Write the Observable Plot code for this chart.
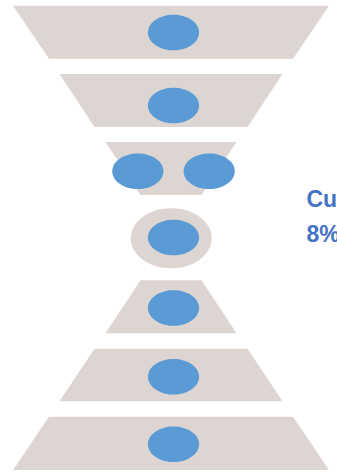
<!DOCTYPE html>
<html>
<head>
<meta charset="utf-8">
<script src="https://cdn.jsdelivr.net/npm/d3@7"></script>
<script src="https://cdn.jsdelivr.net/npm/@observablehq/plot@0.6"></script>
<style>
  html, body { margin: 0; padding: 0; background: #ffffff; }
  #chart svg { display: block; }
</style>
</head>
<body>
<div id="chart"></div>
<script>
// Diagram data (in chart units: x 0–337, y 0–473)
const tiers        = ["Tier 1", "Tier 2", "Tier 3", "Tier 5", "Tier 6", "Tier 7"];
const tierTopY     = [5.7, 74, 142, 280.3, 348.7, 416.7];
const tierBottomY  = [58.7, 127, 195, 333.3, 401.3, 470];
const tierTopW     = [316, 223, 131, 61, 153, 244];
const tierBottomW  = [244, 153, 61, 131, 223, 316];
const axisCenterX  = 171;

const nodeX = [173, 173, 137.3, 208.7, 173, 173, 173, 173];
const nodeY = [32, 105, 170.7, 170.7, 237, 307.5, 376.2, 443.8];

const ringX = [170.7];
const ringY = [237.7];

const labels  = ["Customers", "8%"];
const labelX  = [306, 306];
const labelY  = [190, 225.5];

// Build tables
const trapRows = tiers.flatMap((t, i) => [
  {tier: t, y: tierTopY[i],    x1: axisCenterX - tierTopW[i] / 2,    x2: axisCenterX + tierTopW[i] / 2},
  {tier: t, y: tierBottomY[i], x1: axisCenterX - tierBottomW[i] / 2, x2: axisCenterX + tierBottomW[i] / 2}
]);
const nodes = nodeX.map((x, i) => ({x, y: nodeY[i]}));
const rings = ringX.map((x, i) => ({x, y: ringY[i]}));
const texts = labels.map((s, i) => ({s, x: labelX[i], y: labelY[i]}));

function ellipseSymbol(k) {
  return {
    draw(ctx, size) {
      const ry = Math.sqrt(size / Math.PI);
      const rx = ry * k;
      const c = 0.5522847498;
      ctx.moveTo(rx, 0);
      ctx.bezierCurveTo(rx, c * ry, c * rx, ry, 0, ry);
      ctx.bezierCurveTo(-c * rx, ry, -rx, c * ry, -rx, 0);
      ctx.bezierCurveTo(-rx, -c * ry, -c * rx, -ry, 0, -ry);
      ctx.bezierCurveTo(c * rx, -ry, rx, -c * ry, rx, 0);
      ctx.closePath();
    }
  };
}

const beige = "#ddd5d1";
const blue = "#5b9bd5";

const chart = Plot.plot({
  width: 337,
  height: 473,
  margin: 0,
  x: {domain: [0, 337], range: [0, 337], axis: null},
  y: {domain: [0, 473], range: [0, 473], axis: null},
  style: {background: "#ffffff"},
  marks: [
    Plot.areaX(trapRows, {y: "y", x1: "x1", x2: "x2", z: "tier", fill: beige, stroke: "none"}),
    Plot.dot(rings, {x: "x", y: "y", r: 30, symbol: ellipseSymbol(40.5 / 30), fill: beige, stroke: "none"}),
    Plot.dot(nodes, {x: "x", y: "y", r: 17.8, symbol: ellipseSymbol(25.6 / 17.8), fill: blue, stroke: "none"}),
    Plot.text(texts, {
      x: "x", y: "y", text: "s",
      textAnchor: "start", lineAnchor: "top",
      fill: "#4472c4", fontSize: 23, fontWeight: "bold",
      fontFamily: "Liberation Sans, Arial, sans-serif"
    })
  ]
});
document.getElementById("chart").appendChild(chart);
</script>
</body>
</html>
